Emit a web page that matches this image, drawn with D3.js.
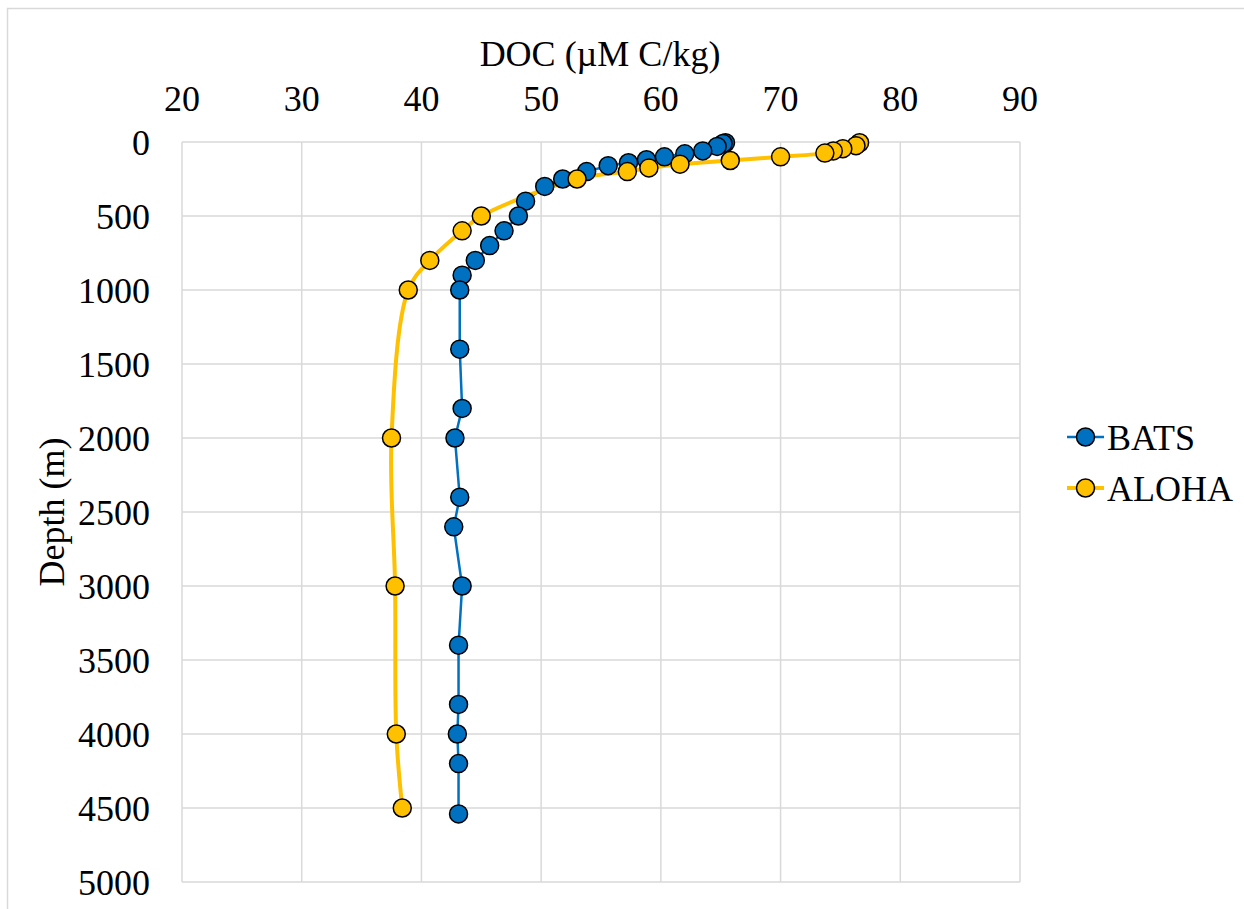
<!DOCTYPE html>
<html>
<head>
<meta charset="utf-8">
<script src="https://cdn.jsdelivr.net/npm/d3@7"></script>
<style>
body { margin: 0; background: #fff; }
text { font-family: "Liberation Serif", "Times New Roman", serif; fill: #000; }
</style>
</head>
<body>
<script>
var width = 1244,
    height = 909;

// DOC (uM C/kg) vs depth (m)
var batsDepth = [5, 10, 30, 60, 80, 100, 120, 140, 160, 200, 250, 300, 400, 500, 600, 700, 800, 900, 1000,
                 1400, 1800, 2000, 2400, 2600, 3000, 3400, 3800, 4000, 4200, 4540];
var batsDoc   = [65.4, 65.2, 64.7, 63.5, 62.0, 60.3, 58.8, 57.3, 55.6, 53.8, 51.8, 50.3, 48.7, 48.1, 46.9, 45.7, 44.5, 43.4, 43.2,
                 43.2, 43.4, 42.8, 43.2, 42.7, 43.4, 43.1, 43.1, 43.0, 43.1, 43.1];

var alohaDepth = [5, 25, 45, 60, 75, 100, 125, 150, 175, 200, 250, 500, 600, 800, 1000, 2000, 3000, 4000, 4500];
var alohaDoc   = [76.6, 76.3, 75.2, 74.4, 73.7, 70.0, 65.8, 61.6, 59.0, 57.2, 53.0, 45.0, 43.4, 40.7, 38.9, 37.5, 37.8, 37.9, 38.4];

var xTicks = [20, 30, 40, 50, 60, 70, 80, 90];
var yTicks = [0, 500, 1000, 1500, 2000, 2500, 3000, 3500, 4000, 4500, 5000];

var series = [
  {name: "BATS", color: "#0070C0", lineWidth: 2.5, curve: d3.curveLinear,
   values: batsDepth.map(function(d, i) { return {depth: d, doc: batsDoc[i]}; })},
  {name: "ALOHA", color: "#FFC000", lineWidth: 4, curve: d3.curveCatmullRom.alpha(0.5),
   values: alohaDepth.map(function(d, i) { return {depth: d, doc: alohaDoc[i]}; })}
];

var margin = {top: 142, left: 182, right: 224, bottom: 27};

var x = d3.scaleLinear()
    .domain([20, 90])
    .range([margin.left, width - margin.right]);

var y = d3.scaleLinear()
    .domain([0, 5000])
    .range([margin.top, height - margin.bottom]);

var svg = d3.select("body").append("svg")
    .attr("width", width)
    .attr("height", height);

// chart border
svg.append("rect")
    .attr("x", 7.5).attr("y", 8.5)
    .attr("width", width - 6).attr("height", height - 6)
    .attr("fill", "none")
    .attr("stroke", "#d9d9d9")
    .attr("stroke-width", 1.5);

// gridlines
svg.append("g").selectAll("line")
    .data(xTicks)
  .enter().append("line")
    .attr("x1", function(d) { return x(d); })
    .attr("x2", function(d) { return x(d); })
    .attr("y1", y(0)).attr("y2", y(5000))
    .attr("stroke", "#d9d9d9").attr("stroke-width", 1.5);

svg.append("g").selectAll("line")
    .data(yTicks)
  .enter().append("line")
    .attr("y1", function(d) { return y(d); })
    .attr("y2", function(d) { return y(d); })
    .attr("x1", x(20)).attr("x2", x(90))
    .attr("stroke", "#d9d9d9").attr("stroke-width", 1.5);

// tick labels
svg.append("g").selectAll("text")
    .data(xTicks)
  .enter().append("text")
    .attr("x", function(d) { return x(d); })
    .attr("y", 111)
    .attr("text-anchor", "middle")
    .style("font-size", "36px")
    .text(function(d) { return d; });

svg.append("g").selectAll("text")
    .data(yTicks)
  .enter().append("text")
    .attr("x", 150)
    .attr("y", function(d) { return y(d) + 13; })
    .attr("text-anchor", "end")
    .style("font-size", "36px")
    .text(function(d) { return d; });

// axis titles
svg.append("text")
    .attr("x", 600)
    .attr("y", 66)
    .attr("text-anchor", "middle")
    .style("font-size", "36px")
    .text("DOC (\u00b5M C/kg)");

svg.append("text")
    .attr("transform", "translate(64," + 512 + ") rotate(-90)")
    .attr("text-anchor", "middle")
    .style("font-size", "36px")
    .text("Depth (m)");

// lines and markers
var line = d3.line()
    .x(function(d) { return x(d.doc); })
    .y(function(d) { return y(d.depth); });

series.forEach(function(s) {
  svg.append("path")
      .datum(s.values)
      .attr("fill", "none")
      .attr("stroke", s.color)
      .attr("stroke-width", s.lineWidth)
      .attr("d", line.curve(s.curve));
});

series.forEach(function(s) {
  svg.append("g").selectAll("circle")
      .data(s.values)
    .enter().append("circle")
      .attr("cx", function(d) { return x(d.doc); })
      .attr("cy", function(d) { return y(d.depth); })
      .attr("r", 9)
      .attr("fill", s.color)
      .attr("stroke", "#000")
      .attr("stroke-width", 1.5);
});

// legend
var legend = svg.append("g").selectAll("g")
    .data(series)
  .enter().append("g")
    .attr("transform", function(d, i) { return "translate(1067," + (437 + i * 51) + ")"; });

legend.append("line")
    .attr("x1", 0).attr("x2", 37)
    .attr("stroke", function(d) { return d.color; })
    .attr("stroke-width", function(d) { return d.lineWidth; });

legend.append("circle")
    .attr("cx", 18.5).attr("r", 9)
    .attr("fill", function(d) { return d.color; })
    .attr("stroke", "#000").attr("stroke-width", 1.5);

legend.append("text")
    .attr("x", 40)
    .attr("y", 13)
    .style("font-size", "36px")
    .text(function(d) { return d.name; });
</script>
</body>
</html>
